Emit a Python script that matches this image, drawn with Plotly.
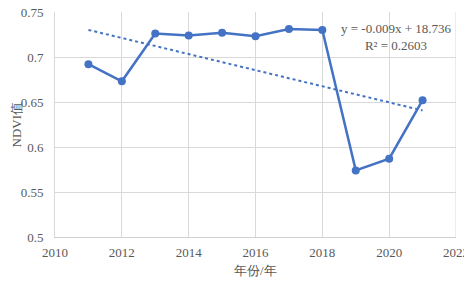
import numpy as np
import plotly.graph_objects as go

years = [2011, 2012, 2013, 2014, 2015, 2016, 2017, 2018, 2019, 2020, 2021]
ndvi = [0.692, 0.673, 0.726, 0.724, 0.727, 0.723, 0.731, 0.730, 0.574, 0.587, 0.652]
x_ticks = [2010, 2012, 2014, 2016, 2018, 2020, 2022]
y_ticks = [0.5, 0.55, 0.6, 0.65, 0.7, 0.75]
y_tick_labels = ["0.5", "0.55", "0.6", "0.65", "0.7", "0.75"]
eq_text = "y = -0.009x + 18.736<br>R² = 0.2603"

slope, intercept = np.polyfit(years, ndvi, 1)
trend = [slope * x + intercept for x in years]

blue = "#4472C4"
grey = "#595959"
font = "Liberation Serif, Times New Roman, serif"

fig = go.Figure()
fig.add_trace(go.Scatter(x=years, y=trend, mode="lines",
                         line=dict(color=blue, width=2, dash="dot"),
                         hoverinfo="skip", showlegend=False))
fig.add_trace(go.Scatter(x=years, y=ndvi, mode="lines+markers",
                         line=dict(color=blue, width=2.5),
                         marker=dict(color=blue, size=8),
                         showlegend=False))

fig.add_annotation(x=2020.2, y=0.722, xref="x", yref="y", text=eq_text,
                   showarrow=False, font=dict(family=font, size=13, color=grey),
                   align="center")
fig.add_annotation(x=0.5, y=-0.147, xref="paper", yref="paper", text="年份/年",
                   showarrow=False, xanchor="center", yanchor="middle",
                   font=dict(family=font, size=13, color=grey))
fig.add_annotation(x=-0.095, y=0.5, xref="paper", yref="paper", text="NDVI值",
                   showarrow=False, textangle=-90, xanchor="center", yanchor="middle",
                   font=dict(family=font, size=13, color=grey))

# page body has an 8px margin; size and margins compensate for it
fig.update_layout(
    width=464, height=274,
    margin=dict(l=47, r=16, t=4, b=45),
    plot_bgcolor="white", paper_bgcolor="white",
    font=dict(family=font, size=13, color=grey),
    xaxis=dict(range=[2010, 2022], tickvals=x_ticks, showgrid=True,
               gridcolor="#d9d9d9", gridwidth=1, zeroline=False,
               showline=True, linecolor="#d0d0d0", linewidth=1,
               ticks="", ticklabelstandoff=3, automargin=False,
               ticklabeloverflow="allow"),
    yaxis=dict(range=[0.5, 0.75], tickvals=y_ticks, ticktext=y_tick_labels,
               showgrid=True, gridcolor="#d9d9d9", gridwidth=1, zeroline=False,
               showline=True, linecolor="#d9d9d9", linewidth=1, ticks="",
               ticklabelstandoff=8, automargin=False,
               ticklabeloverflow="allow"),
)
fig.add_shape(type="line", xref="x", yref="y", x0=2022, x1=2022, y0=0.5, y1=0.75,
              line=dict(color="#d9d9d9", width=1), layer="below")
fig.write_html("out.html")
